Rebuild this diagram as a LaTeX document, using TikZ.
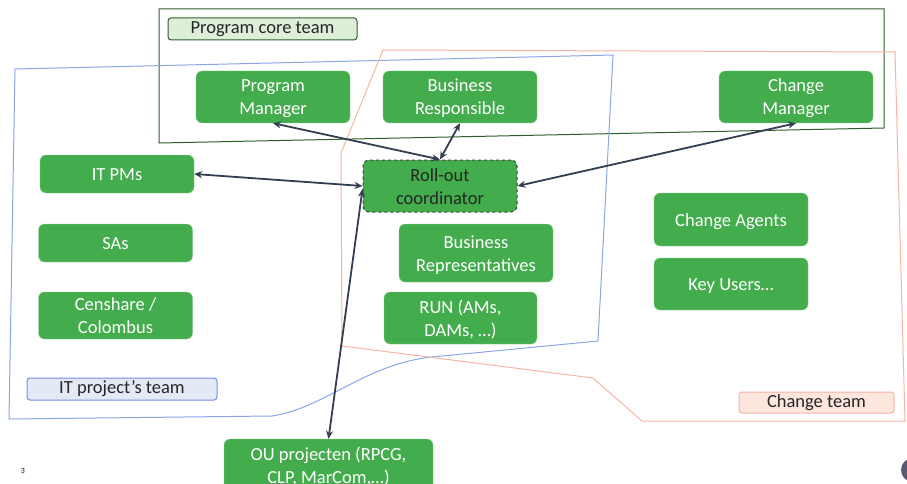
\documentclass[tikz,border=0pt]{standalone}
\usepackage{fontspec}
\setmainfont{Carlito}
\usetikzlibrary{arrows.meta}
\definecolor{rolegreen}{HTML}{43AC4C}
\definecolor{linkgray}{HTML}{333F50}
\definecolor{coregreen}{HTML}{2E5E2A}
\definecolor{corefill}{HTML}{DDEFD9}
\definecolor{itblue}{HTML}{8AA6E6}
\definecolor{itfill}{HTML}{E3EAF6}
\definecolor{chred}{HTML}{F7B3A3}
\definecolor{chfill}{HTML}{FCE6DE}
\begin{document}
\begin{tikzpicture}[x=1pt,y=-1pt,
  role/.style={fill=rolegreen,draw=rolegreen!60!white,rounded corners=6pt,text=white,
    align=center,minimum width=154pt,inner sep=0pt,font=\fontsize{18.5}{23}\selectfont,
    text height=36pt,text depth=0pt},
  oneline/.style={text height=13pt},
  teamlabel/.style={rounded corners=3pt,inner sep=0pt,line width=1pt,text=black!85,
    font=\fontsize{18.5}{20}\selectfont},
  link/.style={linkgray,line width=1.8pt,{Stealth[length=8pt,width=7pt]}-{Stealth[length=8pt,width=7pt]}}]
  \useasboundingbox (0,0) rectangle (907,484);

  % team borders
  \draw[coregreen,line width=1pt] (159,9) -- (884,9) -- (884,128) -- (159,143) -- cycle;
  \draw[itblue,line width=1pt] (15,69) -- (613,55) -- (598,341) -- (432,357)
    .. controls (365,364) and (325,408) .. (272,416) -- (9,419) -- cycle;
  \draw[chred,line width=1pt] (383,50) -- (895,52) -- (905,421) -- (642,421)
    -- (593,378) -- (342,346) -- (341,153) -- cycle;

  \node[teamlabel,draw=coregreen,fill=corefill,minimum width=189pt,minimum height=22pt] (core) at (262.5,29) {Program core team};
  \node[teamlabel,draw=itblue!85!blue,fill=itfill,minimum width=190pt,minimum height=22pt] (itteam) at (122,389) {IT project’s team};
  \node[teamlabel,draw=chred,fill=chfill,minimum width=155pt,minimum height=21pt] (chteam) at (816.5,402.5) {Change team};

  % roles
  \node[role,minimum height=52pt] (pm) at (273,97) {Program\\Manager};
  \node[role,minimum height=52pt] (br) at (460,97) {Business\\Responsible};
  \node[role,minimum height=52pt] (cm) at (796,97) {Change\\Manager};
  \node[role,oneline,minimum height=38pt] (itpm) at (117,174) {IT PMs};
  \node[role,oneline,minimum height=38pt] (sa) at (115.5,243) {SAs};
  \node[role,minimum height=47pt] (cs) at (115.5,315.5) {Censhare /\\Colombus};
  \node[role,minimum height=52pt,draw=black!75,dashed,line width=1pt,text=black!85] (ro) at (440,186) {Roll-out\\coordinator};
  \node[role,minimum height=58pt] (brep) at (476,253) {Business\\Representatives};
  \node[role,minimum height=52pt,minimum width=153pt] (run) at (460.5,318) {RUN (AMs,\\DAMs, …)};
  \node[role,oneline,minimum height=53pt] (ca) at (731,219.5) {Change Agents};
  \node[role,oneline,minimum height=52pt] (ku) at (731,284) {Key Users…};
  \node[role,minimum height=53pt,minimum width=209pt] (ou) at (328.5,465.5) {OU projecten (RPCG,\\CLP, MarCom,…)};

  % links to the coordinator
  \draw[link] (pm.south) -- (ro.north);
  \draw[link] (br.south) -- (ro.north);
  \draw[link] (cm.south) -- (ro.east);
  \draw[link] (itpm.east) -- (ro.west);
  \draw[link] (ou.north) -- ([yshift=-3pt]ro.west);

  % slide footer
  \node[text=black!70,font=\fontsize{8}{8}\selectfont\bfseries] (pagenum) at (23,471) {3};
  \fill[black!70!blue!30!gray] (913,470) circle (12);
\end{tikzpicture}
\end{document}
